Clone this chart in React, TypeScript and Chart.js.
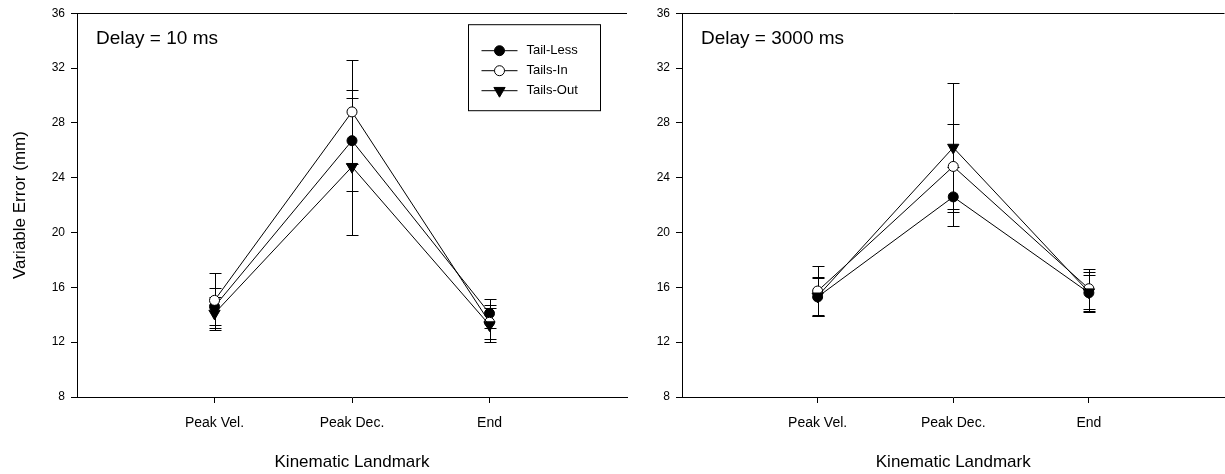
import React, { useEffect, useRef } from 'react';
import { Chart, registerables } from 'chart.js';

Chart.register(...registerables);

const FONT = "Arial, 'Liberation Sans', Helvetica, sans-serif";

// Categories and ticks
const landmarks = ['Peak Vel.', 'Peak Dec.', 'End'];
const seriesNames = ['Tail-Less', 'Tails-In', 'Tails-Out'];
const yTickValues = [8, 12, 16, 20, 24, 28, 32, 36];

// Delay = 10 ms
const tailLess10 = [14.6, 26.7, 14.1];
const tailLess10Err = [1.38, 3.7, 1.08];
const tailsIn10 = [15.05, 28.8, 13.45];
const tailsIn10Err = [1.99, 3.8, 1.23];
const tailsOut10 = [14.1, 24.8, 13.25];
const tailsOut10Err = [1.2, 5.0, 1.23];

// Delay = 3000 ms
const tailLess3000 = [15.3, 22.6, 15.6];
const tailLess3000Err = [1.38, 2.16, 1.3];
const tailsIn3000 = [15.73, 24.82, 15.9];
const tailsIn3000Err = [1.8, 3.08, 1.45];
const tailsOut3000 = [15.35, 26.2, 15.65];
const tailsOut3000Err = [1.4, 4.7, 1.45];

type Marker = { style: string; radius: number; rotation: number; fill: string };
const markers: Marker[] = [
  { style: 'circle', radius: 5, rotation: 0, fill: '#000' },
  { style: 'circle', radius: 5, rotation: 0, fill: '#fff' },
  { style: 'triangle', radius: 6.5, rotation: 180, fill: '#000' },
];

function makeDataset(i: number, values: number[], errors: number[]) {
  const m = markers[i];
  return {
    label: seriesNames[i],
    data: values.map((v, j) => ({ x: j + 1, y: v })),
    errors,
    order: 3 - i,
    borderColor: '#000',
    borderWidth: 1,
    pointStyle: m.style,
    pointRadius: m.radius,
    pointRotation: m.rotation,
    pointBackgroundColor: m.fill,
    pointBorderColor: '#000',
    pointBorderWidth: 1,
    fill: false,
    tension: 0,
    clip: false,
  };
}

const errorBarPlugin = {
  id: 'errorBars',
  beforeDatasetsDraw(chart: any) {
    const { ctx } = chart;
    const x = chart.scales.x;
    const y = chart.scales.y;
    ctx.save();
    ctx.strokeStyle = '#000';
    ctx.lineWidth = 1;
    chart.data.datasets.forEach((ds: any) => {
      ds.data.forEach((p: any, j: number) => {
        const e = ds.errors[j];
        const px = Math.round(x.getPixelForValue(p.x)) + 0.5;
        const yt = Math.round(y.getPixelForValue(p.y + e)) + 0.5;
        const yb = Math.round(y.getPixelForValue(p.y - e)) + 0.5;
        ctx.beginPath();
        ctx.moveTo(px, yt);
        ctx.lineTo(px, yb);
        ctx.moveTo(px - 6, yt);
        ctx.lineTo(px + 6, yt);
        ctx.moveTo(px - 6, yb);
        ctx.lineTo(px + 6, yb);
        ctx.stroke();
      });
    });
    ctx.restore();
  },
};

function drawMarker(ctx: CanvasRenderingContext2D, m: Marker, cx: number, cy: number) {
  ctx.beginPath();
  if (m.style === 'circle') {
    ctx.arc(cx, cy, m.radius, 0, Math.PI * 2);
  } else {
    const r = m.radius;
    let rad = (m.rotation * Math.PI) / 180;
    for (let k = 0; k < 3; k++) {
      const px = cx + Math.sin(rad) * r;
      const py = cy - Math.cos(rad) * r;
      if (k === 0) ctx.moveTo(px, py);
      else ctx.lineTo(px, py);
      rad += (2 * Math.PI) / 3;
    }
    ctx.closePath();
  }
  ctx.fillStyle = m.fill;
  ctx.fill();
  ctx.strokeStyle = '#000';
  ctx.lineWidth = 1;
  ctx.stroke();
}

const panelPlugin = {
  id: 'panelDecor',
  afterDraw(chart: any, _args: any, opts: any) {
    const { ctx, chartArea } = chart;
    ctx.save();
    // top frame line
    ctx.strokeStyle = '#000';
    ctx.lineWidth = 1;
    ctx.beginPath();
    const ty = Math.round(chartArea.top) + 0.5;
    ctx.moveTo(chartArea.left, ty);
    ctx.lineTo(chartArea.right, ty);
    ctx.stroke();
    // delay label
    ctx.fillStyle = '#000';
    ctx.font = `19px ${FONT}`;
    ctx.textAlign = 'left';
    ctx.textBaseline = 'middle';
    ctx.fillText(opts.label, chartArea.left + 19, chartArea.top + 26);
    // legend box
    if (opts.legend) {
      const bx = chartArea.left + 391.5;
      const by = chartArea.top + 11.5;
      const bw = 132;
      const bh = 86;
      ctx.strokeRect(bx, by, bw, bh);
      ctx.font = `13px ${FONT}`;
      seriesNames.forEach((name, i) => {
        const ry = by + 26 + i * 20;
        ctx.beginPath();
        ctx.moveTo(bx + 13, ry);
        ctx.lineTo(bx + 49, ry);
        ctx.strokeStyle = '#000';
        ctx.lineWidth = 1;
        ctx.stroke();
        drawMarker(ctx, markers[i], bx + 31, ry);
        ctx.fillStyle = '#000';
        ctx.fillText(name, bx + 58, ry);
      });
    }
    ctx.restore();
  },
};

function makeConfig(p: {
  datasets: any[];
  showYTitle: boolean;
  yWidth: number;
  padRight: number;
  label: string;
  legend: boolean;
}): any {
  return {
    type: 'line',
    data: { datasets: p.datasets },
    plugins: [errorBarPlugin, panelPlugin],
    options: {
      animation: false,
      responsive: false,
      maintainAspectRatio: false,
      events: [],
      layout: { padding: { left: 0, right: p.padRight, top: 12, bottom: 0 } },
      plugins: {
        legend: { display: false },
        tooltip: { enabled: false },
        panelDecor: { label: p.label, legend: p.legend },
      },
      scales: {
        x: {
          type: 'linear',
          min: 0,
          max: 4,
          afterBuildTicks: (s: any) => {
            s.ticks = landmarks.map((_, i) => ({ value: i + 1 }));
          },
          afterFit: (s: any) => {
            s.height = 77;
          },
          ticks: {
            callback: (_v: any, i: number) => landmarks[i],
            font: { size: 14, family: FONT },
            color: '#000',
            padding: 12,
            autoSkip: false,
            maxRotation: 0,
          },
          grid: { drawOnChartArea: false, drawTicks: true, tickLength: 6, color: '#000' },
          border: { display: true, color: '#000', width: 1 },
          title: {
            display: true,
            text: 'Kinematic Landmark',
            font: { size: 17, family: FONT },
            color: '#000',
            padding: { top: 0, bottom: 1 },
          },
        },
        y: {
          type: 'linear',
          min: 8,
          max: 36,
          afterBuildTicks: (s: any) => {
            s.ticks = yTickValues.map((v) => ({ value: v }));
          },
          afterFit: (s: any) => {
            s.width = p.yWidth;
          },
          ticks: {
            font: { size: 12, family: FONT },
            color: '#000',
            padding: 6,
          },
          grid: { drawOnChartArea: false, drawTicks: true, tickLength: 6, color: '#000' },
          border: { display: true, color: '#000', width: 1 },
          title: {
            display: p.showYTitle,
            text: 'Variable Error (mm)',
            font: { size: 17, family: FONT },
            color: '#000',
            padding: { top: 10, bottom: 0 },
          },
        },
      },
    },
  };
}

export default function App() {
  const ref1 = useRef<HTMLCanvasElement>(null);
  const ref2 = useRef<HTMLCanvasElement>(null);

  useEffect(() => {
    const c1 = new Chart(
      ref1.current as HTMLCanvasElement,
      makeConfig({
        datasets: [
          makeDataset(0, tailLess10, tailLess10Err),
          makeDataset(1, tailsIn10, tailsIn10Err),
          makeDataset(2, tailsOut10, tailsOut10Err),
        ],
        showYTitle: true,
        yWidth: 77,
        padRight: 13,
        label: 'Delay = 10 ms',
        legend: true,
      })
    );
    const c2 = new Chart(
      ref2.current as HTMLCanvasElement,
      makeConfig({
        datasets: [
          makeDataset(0, tailLess3000, tailLess3000Err),
          makeDataset(1, tailsIn3000, tailsIn3000Err),
          makeDataset(2, tailsOut3000, tailsOut3000Err),
        ],
        showYTitle: false,
        yWidth: 42,
        padRight: 6,
        label: 'Delay = 3000 ms',
        legend: false,
      })
    );
    return () => {
      c1.destroy();
      c2.destroy();
    };
  }, []);

  return (
    <div
      style={{
        position: 'absolute',
        left: 0,
        top: 0,
        width: 1225,
        height: 474,
        overflow: 'hidden',
        background: '#fff',
      }}
    >
      <canvas ref={ref1} width={640} height={474} style={{ position: 'absolute', left: 0, top: 0 }} />
      <canvas ref={ref2} width={592} height={474} style={{ position: 'absolute', left: 640, top: 0 }} />
    </div>
  );
}
